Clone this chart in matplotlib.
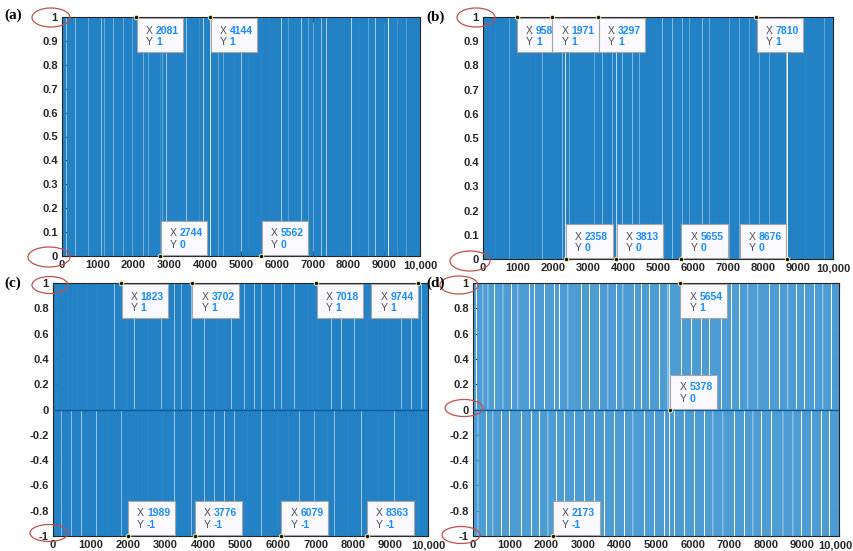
import numpy as np
import matplotlib
matplotlib.use("Agg")
import matplotlib.pyplot as plt
from matplotlib import patches, transforms

N = 10000
idx = np.arange(1, N + 1)

# light/white stripes (sample index of stripe centre)
gaps_a = [130, 223, 382, 735, 1108, 1182, 1434, 1713, 1964, 2272, 2411, 2598,
          2744, 2802, 2923, 3156, 3296, 3482, 3850, 3950, 4050, 4150, 4366,
          4506, 4832, 5018, 5223, 5502, 5562, 5809, 6135, 6321, 6694, 6880,
          7020, 7253, 7392, 7765, 7904, 8090, 8323, 8556, 8761, 9000, 9120,
          9250, 9380, 9617]
gaps_b = [229, 371, 752, 1229, 1371, 1514, 1705, 1943, 2276, 2358, 2467, 2657,
          2943, 3181, 3419, 3705, 3813, 3990, 4276, 4467, 4800, 5133, 5419,
          5655, 5705, 5895, 6276, 6467, 6657, 7038, 7324, 7609, 7895, 8181,
          8371, 8676, 8705, 8943, 9228, 9514, 9752]
gaps_c_up = [133, 400, 667, 933, 1200, 1645, 2000, 2178, 2533, 2889, 3245,
             3422, 3689, 4045, 4400, 4756, 5112, 5378, 5556, 5912, 6089, 6445,
             6800, 7067, 7423, 7690, 8045, 8400, 8667, 8934, 9289, 9556, 9823]
gaps_c_dn = [222, 489, 756, 1156, 1467, 1822, 2267, 2533, 2934, 3245, 3689,
             4045, 4312, 4578, 4845, 5201, 5556, 6001, 6268, 6579, 6979, 7334,
             7512, 7868, 8223, 8668, 9112, 9468, 9735]
gaps_d_up = [91, 273, 410, 592, 820, 1047, 1229, 1548, 1685, 1958, 2231, 2368,
             2595, 2960, 3187, 3461, 3688, 3916, 4098, 4417, 4599, 4827, 5100,
             5327, 5378, 5692, 5965, 6238, 6466, 6785, 7058, 7285, 7513, 7786,
             8105, 8378, 8606, 8833, 9061, 9334, 9562, 9789]
gaps_d_dn = [137, 364, 546, 774, 1002, 1320, 1594, 1821, 2049, 2277, 2504,
             2777, 3051, 3324, 3597, 3871, 4144, 4371, 4690, 4963, 5237, 5378,
             5510, 5783, 6056, 6329, 6557, 6830, 7149, 7422, 7650, 7877, 8150,
             8470, 8743, 8970, 9243, 9516, 9744]

# data tips (x, y)
tips_a = [(2081, 1), (4144, 1), (2744, 0), (5562, 0)]
tips_b = [(958, 1), (1971, 1), (3297, 1), (7810, 1),
          (2358, 0), (3813, 0), (5655, 0), (8676, 0)]
tips_c = [(1823, 1), (3702, 1), (7018, 1), (9744, 1),
          (1989, -1), (3776, -1), (6079, -1), (8363, -1)]
tips_d = [(5654, 1), (5378, 0), (2173, -1)]

xtick_vals = list(range(0, 10001, 1000))
xtick_labels = ['0', '1000', '2000', '3000', '4000', '5000', '6000', '7000',
                '8000', '9000', '10,000']


def stems(gaps, run):
    on = np.ones(N, dtype=bool)
    for g in gaps:
        on[max(g - 1 - run // 2, 0):g - 1 + run // 2] = False
    return idx[on]


W, H = 854, 551
fig = plt.figure(figsize=(W / 100, H / 100), dpi=100)

def px_rect(x0, x1, y0, y1):
    return [x0 / W, 1 - y1 / H, (x1 - x0) / W, (y1 - y0) / H]

ax_a = fig.add_axes(px_rect(62, 420, 17, 256))
ax_b = fig.add_axes(px_rect(483, 833, 17, 259))
ax_c = fig.add_axes(px_rect(53, 428, 283, 536))
ax_d = fig.add_axes(px_rect(473, 839, 283, 536))

blue = '#2382c5'
light = '#4d9cd4'
lw = 0.2

ax_a.vlines(stems(gaps_a, 32), 0, 1, color=blue, lw=lw, snap=False)
ax_b.vlines(stems(gaps_b, 32), 0, 1, color=blue, lw=lw, snap=False)
ax_c.vlines(stems(gaps_c_up, 32), 0, 1, color=blue, lw=lw, snap=False)
ax_c.vlines(stems(gaps_c_dn, 32), -1, 0, color=blue, lw=lw, snap=False)
ax_d.vlines(stems(gaps_d_up, 46), 0, 1, color=light, lw=lw, snap=False)
ax_d.vlines(stems(gaps_d_dn, 46), -1, 0, color=light, lw=lw, snap=False)
for ax in (ax_c, ax_d):
    ax.axhline(0, color='#0d5b9a', lw=1.0, zorder=3)


def fmt(v):
    s = ('%.1f' % v).rstrip('0').rstrip('.')
    return '0' if s in ('-0', '0') else s


for ax, ylo in ((ax_a, 0), (ax_b, 0), (ax_c, -1), (ax_d, -1)):
    ax.set_xlim(0, 10000)
    ax.set_ylim(ylo, 1)
    ax.set_xticks(xtick_vals)
    ax.set_xticklabels(xtick_labels)
    yt = np.round(np.arange(ylo, 1.0001, 0.1 if ylo == 0 else 0.2), 2)
    ax.set_yticks(yt)
    ax.set_yticklabels([fmt(v) for v in yt])
    ax.tick_params(direction='in', top=True, right=True, length=3.5,
                   width=0.8, color='#262626', labelsize=8, pad=3)
    for lab in ax.get_xticklabels() + ax.get_yticklabels():
        lab.set_fontweight('bold')
        lab.set_family('Liberation Sans')
        lab.set_color('#262626')
    for sp in ax.spines.values():
        sp.set_color('#262626')
        sp.set_linewidth(0.8)

# nudge the last label of (d) a little left so it stays inside the figure
last = ax_d.get_xticklabels()[-1]
last.set_transform(last.get_transform() +
                   transforms.ScaledTranslation(-4 / 100, 0, fig.dpi_scale_trans))


def datatip(ax, x, y, ylo, flip=False):
    tr = fig.dpi_scale_trans + transforms.ScaledTranslation(x, y, ax.transData)
    bw, bh = 0.465, 0.34
    bx = -bw - 0.005 if flip else 0.005
    by = 0.01 if y == ylo or (y == 0 and ylo == -1) else -bh - 0.01
    ax.add_patch(patches.Rectangle((bx, by), bw, bh, transform=tr,
                                   facecolor='#f9f9ff', edgecolor='#a6a6a6',
                                   lw=0.8, clip_on=False, zorder=10))
    top = by + bh
    for row, (k, v) in enumerate((('X', str(x)), ('Y', str(y)))):
        ty = top - 0.125 - row * 0.118
        ax.text(bx + 0.09, ty, k, transform=tr, fontsize=7.5, color='#4d4d4d',
                family='Liberation Sans', va='center', zorder=11)
        ax.text(bx + 0.19, ty, v, transform=tr, fontsize=7.5, color='#1a8cff',
                family='Liberation Sans', fontweight='bold', va='center',
                zorder=11)
    ax.plot([x], [y], 'o', ms=3.2, mfc='#111111', mec='#f0f0b0', mew=0.7,
            clip_on=False, zorder=12)


for ax, tips, ylo in ((ax_a, tips_a, 0), (ax_b, tips_b, 0),
                      (ax_c, tips_c, -1), (ax_d, tips_d, -1)):
    for x, y in tips:
        datatip(ax, x, y, ylo, flip=x > 8500)

# panel labels
for x, y, s in ((4, 15, '(a)'), (426, 17, '(b)'), (4, 283, '(c)'), (426, 283, '(d)')):
    fig.text(x / W, 1 - y / H, s, family='Liberation Serif', fontweight='bold',
             fontsize=11, va='center', ha='left')

# red ellipses around the tick labels
for cx, cy, ew, eh in ((51, 17.5, 38, 19), (49, 257, 42, 20),
                       (476, 17.5, 38, 19), (470, 261, 40, 20),
                       (50, 285, 36, 17), (49, 533, 38, 17),
                       (459, 285, 38, 18), (464, 408, 38, 17),
                       (461, 535, 38, 17)):
    fig.add_artist(patches.Ellipse((cx / W, 1 - cy / H), ew / W, eh / H,
                                   transform=fig.transFigure, fill=False,
                                   edgecolor='#c0504d', lw=0.9))

fig.savefig('out.png', dpi=100)
